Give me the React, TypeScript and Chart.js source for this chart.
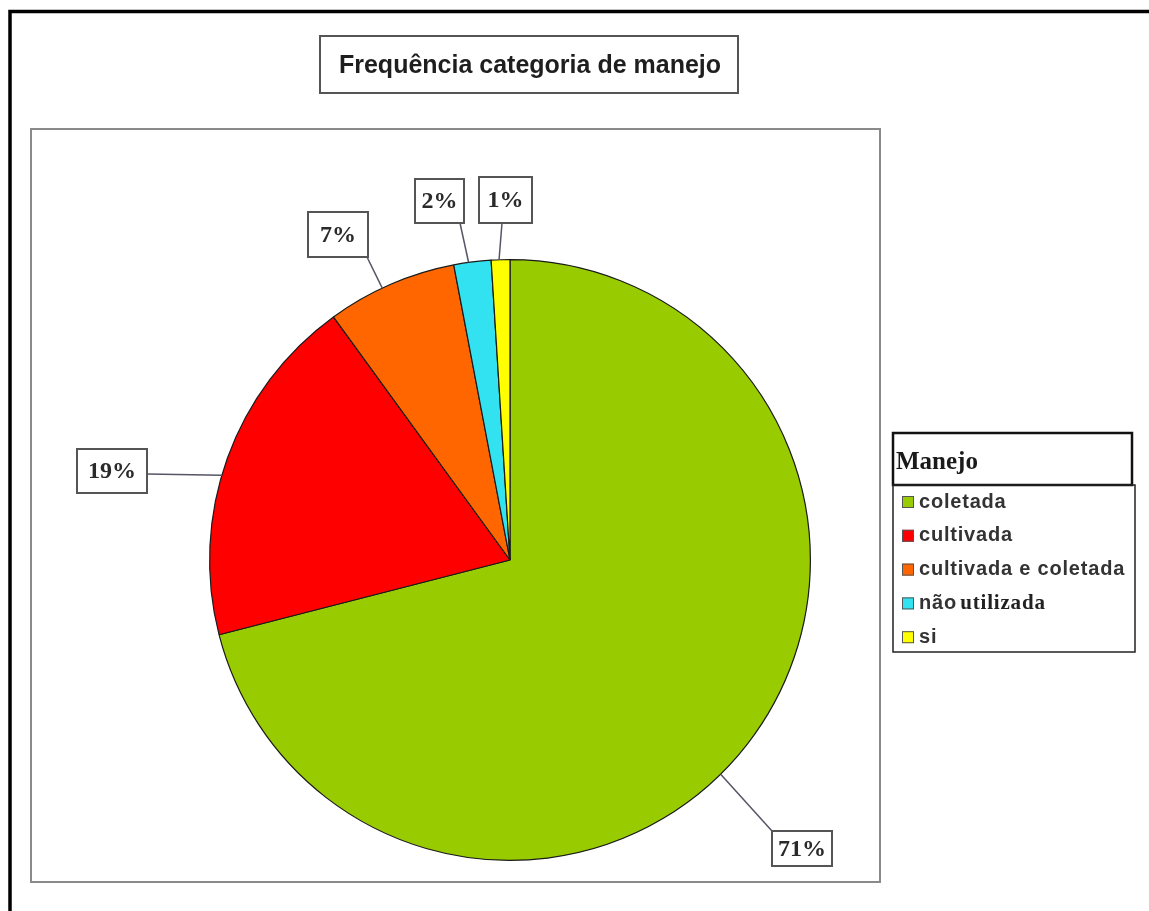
import { useEffect, useRef } from "react";
import { Chart, registerables } from "chart.js";

Chart.register(...registerables);

// Data
const categories = ["coletada", "cultivada", "cultivada e coletada", "não utilizada", "si"];
const percentages = [71, 19, 7, 2, 1];
const sliceColors = ["#99CC00", "#FF0000", "#FF6600", "#33E2F0", "#FFFF00"];
const chartTitle = "Frequência categoria de manejo";
const legendTitle = "Manejo";

// Callout boxes for the percentage labels: rectangle, point where the leader meets
// the box, and where along the slice's outer edge the leader starts (0..1).
const calloutLayout = [
  { x: 772, y: 831, w: 60, h: 35, ax: 772, ay: 831, frac: 0.53 },
  { x: 77, y: 449, w: 70, h: 44, ax: 147, ay: 474, frac: 0.45 },
  { x: 308, y: 212, w: 60, h: 45, ax: 367, ay: 257, frac: 0.43 },
  { x: 415, y: 179, w: 49, h: 44, ax: 460, ay: 223, frac: 0.4 },
  { x: 479, y: 177, w: 53, h: 46, ax: 502, ay: 223, frac: 0.42 },
];

const SANS = '"Liberation Sans", Arial, sans-serif';
const SERIF = '"Liberation Serif", "Times New Roman", serif';

const framePlugin = {
  id: "frame",
  beforeDraw(chart: any) {
    const ctx = chart.ctx as CanvasRenderingContext2D;
    ctx.save();
    ctx.fillStyle = "#ffffff";
    ctx.fillRect(0, 0, chart.width, chart.height);

    // outer frame (top and left edges)
    ctx.strokeStyle = "#000000";
    ctx.lineWidth = 3.5;
    ctx.beginPath();
    ctx.moveTo(1149, 11.5);
    ctx.lineTo(10, 11.5);
    ctx.lineTo(10, 911);
    ctx.stroke();

    // plot area
    ctx.strokeStyle = "#8a8a8a";
    ctx.lineWidth = 2;
    ctx.strokeRect(31, 129, 849, 753);

    // title box
    ctx.strokeStyle = "#555555";
    ctx.lineWidth = 2;
    ctx.strokeRect(320, 36, 418, 57);
    ctx.fillStyle = "#1e1e1e";
    ctx.font = `bold 25px ${SANS}`;
    ctx.textAlign = "center";
    ctx.textBaseline = "middle";
    ctx.fillText(chartTitle, 530, 66);
    ctx.restore();
  },
  afterDraw(chart: any) {
    const ctx = chart.ctx as CanvasRenderingContext2D;
    const meta = chart.getDatasetMeta(0);
    ctx.save();

    // callouts
    meta.data.forEach((arc: any, i: number) => {
      const c = calloutLayout[i];
      const a = arc.startAngle + c.frac * (arc.endAngle - arc.startAngle);
      const px = arc.x + Math.cos(a) * arc.outerRadius;
      const py = arc.y + Math.sin(a) * arc.outerRadius;
      ctx.strokeStyle = "#555566";
      ctx.lineWidth = 1.5;
      ctx.beginPath();
      ctx.moveTo(px, py);
      ctx.lineTo(c.ax, c.ay);
      ctx.stroke();

      ctx.fillStyle = "#ffffff";
      ctx.fillRect(c.x, c.y, c.w, c.h);
      ctx.strokeStyle = "#555555";
      ctx.lineWidth = 2;
      ctx.strokeRect(c.x, c.y, c.w, c.h);
      ctx.fillStyle = "#2a2a2a";
      ctx.font = `bold 24px ${SERIF}`;
      ctx.textAlign = "center";
      ctx.textBaseline = "middle";
      ctx.fillText(`${percentages[i]}%`, c.x + c.w / 2, c.y + c.h / 2 + 1);
    });

    // legend
    ctx.strokeStyle = "#111111";
    ctx.lineWidth = 2.5;
    ctx.strokeRect(893, 433, 239, 52);
    ctx.fillStyle = "#1a1a1a";
    ctx.font = `bold 25px ${SERIF}`;
    ctx.textAlign = "left";
    ctx.textBaseline = "middle";
    ctx.fillText(legendTitle, 896, 463);

    ctx.lineWidth = 1.5;
    ctx.strokeStyle = "#222222";
    ctx.strokeRect(893, 485, 242, 167);

    (ctx as any).letterSpacing = "0.8px";
    categories.forEach((name, i) => {
      const yc = 502 + i * 33.8;
      ctx.fillStyle = sliceColors[i];
      ctx.fillRect(902, yc - 6, 12, 12);
      ctx.strokeStyle = "#555555";
      ctx.lineWidth = 1;
      ctx.strokeRect(902.5, yc - 5.5, 11, 11);
      ctx.fillStyle = "#333333";
      ctx.textBaseline = "middle";
      if (name === "não utilizada") {
        ctx.font = `bold 20px ${SANS}`;
        ctx.fillText("não", 919, yc);
        const w = ctx.measureText("não ").width;
        ctx.font = `bold 21px ${SERIF}`;
        ctx.fillStyle = "#222222";
        ctx.fillText("utilizada", 919 + w - 3, yc);
      } else {
        ctx.font = `bold 20px ${SANS}`;
        ctx.fillText(name, 919, yc);
      }
    });

    ctx.restore();
  },
};

export default function App() {
  const canvasRef = useRef<HTMLCanvasElement | null>(null);

  useEffect(() => {
    const canvas = canvasRef.current;
    if (!canvas) return;
    const chart = new Chart(canvas, {
      type: "pie",
      data: {
        labels: categories,
        datasets: [
          {
            data: percentages,
            backgroundColor: sliceColors,
            borderColor: "#1a1a1a",
            borderWidth: 1.2,
          },
        ],
      },
      options: {
        responsive: false,
        animation: false,
        events: [],
        layout: { padding: { left: 209, right: 338, top: 259, bottom: 50 } },
        plugins: {
          legend: { display: false },
          tooltip: { enabled: false },
          title: { display: false },
        },
      },
      plugins: [framePlugin],
    });
    return () => chart.destroy();
  }, []);

  return (
    <div style={{ position: "absolute", left: 0, top: 0, width: 1149, height: 911, background: "#fff" }}>
      <canvas ref={canvasRef} width={1149} height={911} style={{ display: "block" }} />
    </div>
  );
}
